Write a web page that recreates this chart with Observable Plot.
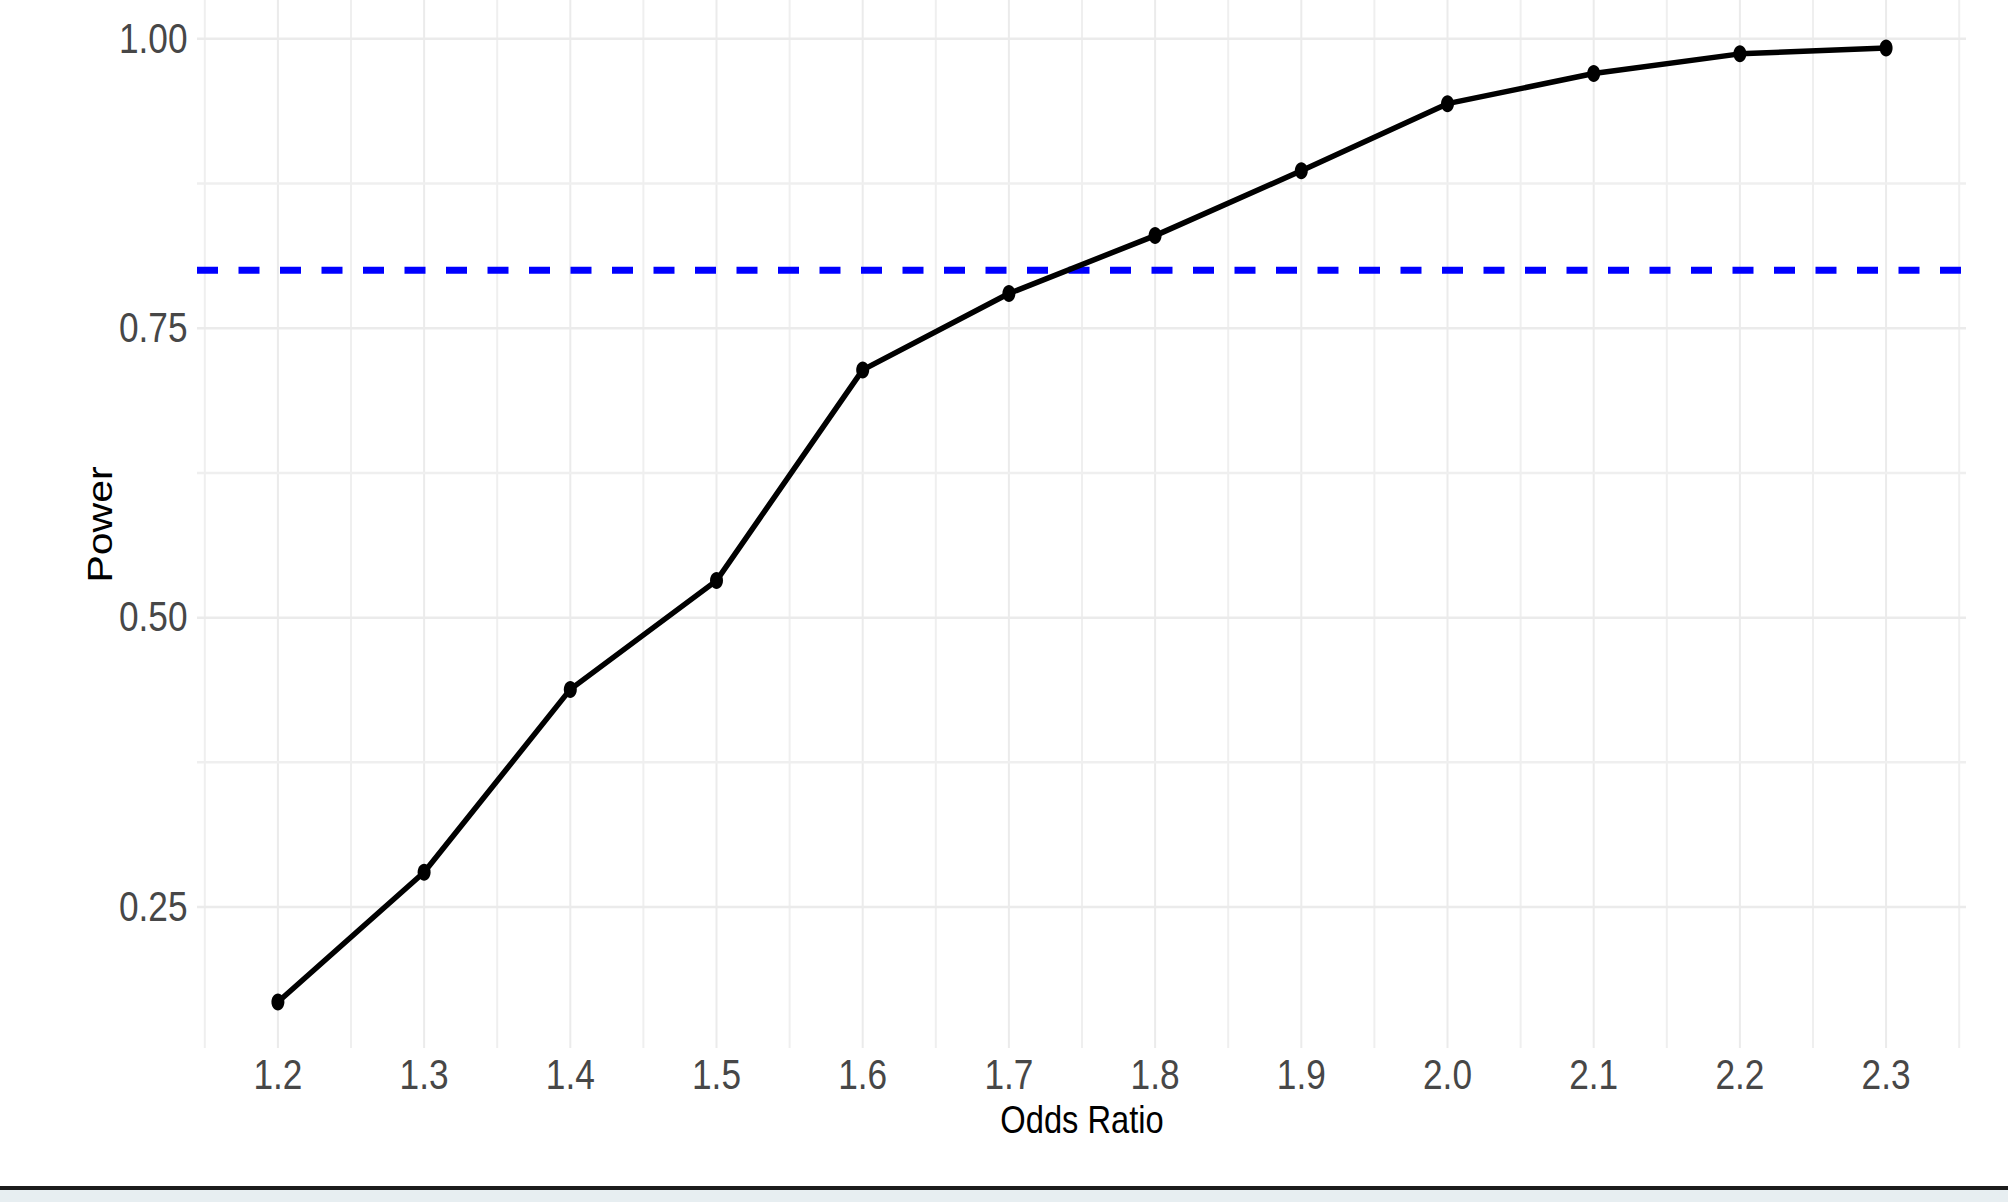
<!DOCTYPE html>
<html><head><meta charset="utf-8">
<script src="https://cdn.jsdelivr.net/npm/d3@7"></script>
<script src="https://cdn.jsdelivr.net/npm/@observablehq/plot@0.6"></script>
<style>
html,body{margin:0;padding:0;background:#fff;}
#chart{position:relative;width:2008px;height:1202px;overflow:hidden;background:#fff;}
#chart svg{position:absolute;left:0;top:0;}
#rule{position:absolute;left:0;top:1186px;width:2008px;height:4px;background:#1c1c1c;}
#strip{position:absolute;left:0;top:1190px;width:2008px;height:12px;background:#e7eef1;}
</style></head><body>
<div id="chart"><div id="rule"></div><div id="strip"></div></div>
<script>
// Data
const oddsRatio = [1.2, 1.3, 1.4, 1.5, 1.6, 1.7, 1.8, 1.9, 2.0, 2.1, 2.2, 2.3];
const power = [0.168, 0.280, 0.438, 0.532, 0.714, 0.780, 0.830, 0.886, 0.944, 0.970, 0.987, 0.992];
const targetPower = [0.8];
const xTicks = [1.2, 1.3, 1.4, 1.5, 1.6, 1.7, 1.8, 1.9, 2.0, 2.1, 2.2, 2.3];
const xMinor = [1.15, 1.25, 1.35, 1.45, 1.55, 1.65, 1.75, 1.85, 1.95, 2.05, 2.15, 2.25, 2.35];
const yTicks = [0.25, 0.50, 0.75, 1.00];
const yMinor = [0.375, 0.625, 0.875];
const xLabel = "Odds Ratio";
const yLabel = "Power";

const data = oddsRatio.map((x, i) => ({x, y: power[i]}));

// ellipse symbol (the reference is slightly stretched vertically)
const ellipse = {
  draw(ctx, size) {
    const rx = 6.5, ry = 8.5, k = 0.5523;
    ctx.moveTo(rx, 0);
    ctx.bezierCurveTo(rx, k * ry, k * rx, ry, 0, ry);
    ctx.bezierCurveTo(-k * rx, ry, -rx, k * ry, -rx, 0);
    ctx.bezierCurveTo(-rx, -k * ry, -k * rx, -ry, 0, -ry);
    ctx.bezierCurveTo(k * rx, -ry, rx, -k * ry, rx, 0);
    ctx.closePath();
  }
};

const chart = Plot.plot({
  width: 2008,
  height: 1188,
  marginLeft: 197,
  marginRight: 42,
  marginTop: 0,
  marginBottom: 140,
  style: {fontFamily: "'Liberation Sans', Arial, Helvetica, sans-serif", fontSize: "43px", color: "#474747", background: "transparent", overflow: "visible"},
  x: {domain: [1.145, 2.355], ticks: xTicks, tickFormat: d => d.toFixed(1), tickSize: 0, tickPadding: 10, label: xLabel, labelAnchor: "center", labelOffset: 84, labelArrow: "none"},
  y: {domain: [0.1278, 1.0331], ticks: yTicks, tickFormat: d => d.toFixed(2), tickSize: 0, tickPadding: 10, label: yLabel, labelAnchor: "center", labelOffset: 111, labelArrow: "none"},
  marks: [
    Plot.ruleX(xMinor, {stroke: "#efefef", strokeWidth: 2}),
    Plot.ruleX(xTicks, {stroke: "#ebebeb", strokeWidth: 2}),
    Plot.ruleY(yMinor, {stroke: "#efefef", strokeWidth: 2.5}),
    Plot.ruleY(yTicks, {stroke: "#ebebeb", strokeWidth: 2.5}),
    Plot.ruleY(targetPower, {stroke: "#0000ff", strokeWidth: 7, strokeDasharray: "21,20.5"}),
    Plot.line(data, {x: "x", y: "y", stroke: "#000", strokeWidth: 5.5, strokeLinejoin: "round"}),
    Plot.dot(data, {x: "x", y: "y", fill: "#000", stroke: "none", symbol: ellipse, r: 7})
  ]
});

const svg = chart.tagName.toLowerCase() === "svg" ? chart : chart.querySelector("svg");
// style axis labels
svg.querySelectorAll("text").forEach(t => {
  const txt = t.textContent.trim();
  if (txt === xLabel || txt === yLabel) {
    const fs = txt === yLabel ? 41 : 38;
    t.setAttribute("font-size", String(fs));
    t.style.fontSize = fs + "px";
    t.setAttribute("fill", "#000");
    t.style.fill = "#000";
  }
});
// horizontal compression to match the reference's narrow glyphs
svg.querySelectorAll("text").forEach(t => {
  const txt = t.textContent.trim();
  const isTitle = (txt === xLabel || txt === yLabel);
  const s = isTitle ? 0.86 : 0.82;
  const tr = t.getAttribute("transform") || "";
  const isRot = /rotate/.test(tr);
  const ax = parseFloat(t.getAttribute("x")) || 0;
  const ay = parseFloat(t.getAttribute("y")) || 0;
  const sc = isRot ? `scale(1,${s})` : `scale(${s},1)`;
  t.setAttribute("transform", `${tr} translate(${ax},${ay}) ${sc} translate(${-ax},${-ay})`.trim());
});
document.getElementById("chart").prepend(chart);
</script>
</body></html>
